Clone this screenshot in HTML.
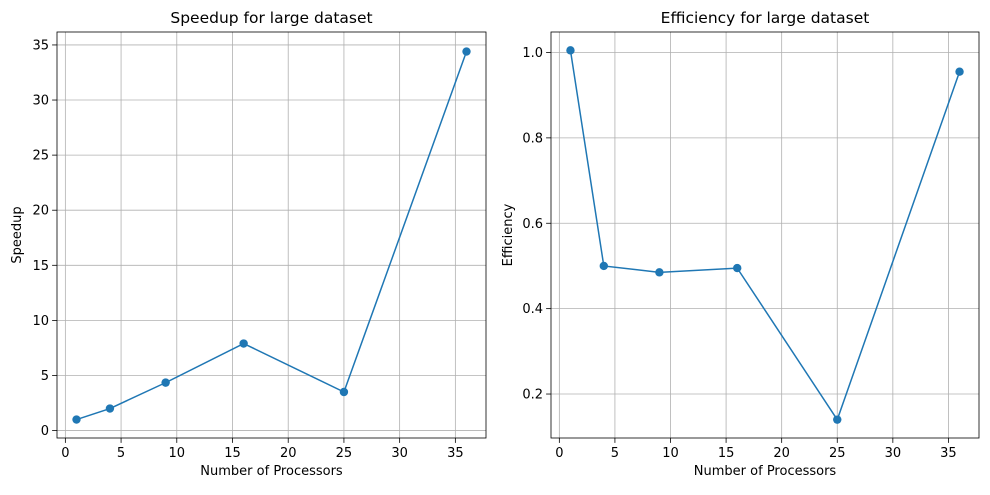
<!DOCTYPE html>
<html><head><meta charset="utf-8"><style>
body{margin:0;background:#fff;font-family:"Liberation Sans","DejaVu Sans",sans-serif}
svg text{font-family:"DejaVu Sans","Liberation Sans",sans-serif}
</style></head><body>
<svg id="fig" width="990" height="490" xmlns="http://www.w3.org/2000/svg"></svg>
<script>
const processors=[1,4,9,16,25,36];
const speedup=[1.0,2.0,4.35,7.9,3.5,34.4];
const efficiency=[1.005,0.50,0.485,0.495,0.14,0.955];
const xTicks=[0,5,10,15,20,25,30,35];
const speedTicks=[0,5,10,15,20,25,30,35];
const effTicks=[0.2,0.4,0.6,0.8,1.0];
const NS='http://www.w3.org/2000/svg';
const svg=document.getElementById('fig');
function mk(tag,attrs,parent){const e=document.createElementNS(NS,tag);for(const k in attrs)e.setAttribute(k,attrs[k]);(parent||svg).appendChild(e);return e;}
function panel(name,L,R,T,B,xmin,xmax,ymin,ymax,xs,ys,yt,ylab,title,fmt,ylx){
  const g=mk('g',{});
  
  
  const sx=v=>L+(v-xmin)/(xmax-xmin)*(R-L);
  const sy=v=>B-(v-ymin)/(ymax-ymin)*(B-T);
  xTicks.forEach(t=>{const x=sx(t);
    const l=mk('line',{x1:x,x2:x,y1:T,y2:B,stroke:'#b0b0b0','stroke-width':0.8},g);
    
    mk('line',{x1:x,x2:x,y1:B,y2:B+4.9,stroke:'#000','stroke-width':0.8},g);
    const tx=mk('text',{x:x,y:B+19,'font-size':13,'text-anchor':'middle'},g);tx.textContent=t;
    });
  yt.forEach(t=>{const y=sy(t);
    const l=mk('line',{x1:L,x2:R,y1:y,y2:y,stroke:'#b0b0b0','stroke-width':0.8},g);
    
    mk('line',{x1:L-4.9,x2:L,y1:y,y2:y,stroke:'#000','stroke-width':0.8},g);
    const tx=mk('text',{x:L-8,y:y+4.5,'font-size':13,'text-anchor':'end'},g);tx.textContent=fmt(t);
    });
  const pts=xs.map((x,i)=>sx(x)+','+sy(ys[i])).join(' ');
  const pl=mk('polyline',{points:pts,fill:'none',stroke:'#1f77b4','stroke-width':1.5},g);
  
  xs.forEach((x,i)=>{const c=mk('circle',{cx:sx(x),cy:sy(ys[i]),r:4.2,fill:'#1f77b4'},g);
    });
  const f=mk('rect',{x:L,y:T,width:R-L,height:B-T,fill:'none',stroke:'#000','stroke-width':0.8},g);
  
  const tt=mk('text',{x:(L+R)/2,y:T-9,'font-size':15.5,'text-anchor':'middle'},g);tt.textContent=title;
  
  const xl=mk('text',{x:(L+R)/2,y:B+37,'font-size':13,'text-anchor':'middle'},g);xl.textContent='Number of Processors';
  
  const yl=mk('text',{x:ylx,y:(T+B)/2,'font-size':13,'text-anchor':'middle',transform:`rotate(-90 ${ylx} ${(T+B)/2})`},g);yl.textContent=ylab;
  
}
panel('speedup',57,486,32,438,-0.75,37.75,-0.675,36.175,processors,speedup,speedTicks,'Speedup','Speedup for large dataset',t=>t,21);
panel('efficiency',551,979,32,438,-0.75,37.75,0.097,1.048,processors,efficiency,effTicks,'Efficiency','Efficiency for large dataset',t=>t.toFixed(1),512);
</script>
</body></html>
